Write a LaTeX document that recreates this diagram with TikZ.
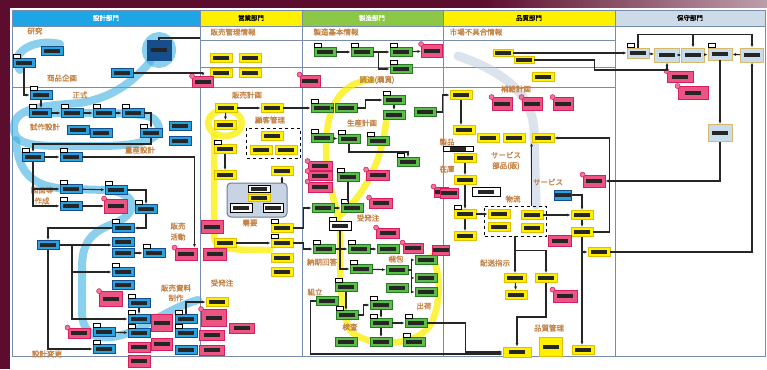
\documentclass[tikz,border=0pt]{standalone}
\usepackage{fontspec}
\newfontfamily\jp[FakeBold=1.2]{Noto Sans CJK JP}
\usetikzlibrary{arrows.meta,positioning,fit,backgrounds,calc}
\definecolor{maroonc}{RGB}{92,12,45}
\definecolor{blu}{RGB}{41,163,224}
\definecolor{bludk}{RGB}{22,78,140}
\definecolor{hdblu}{RGB}{30,165,230}
\definecolor{ylw}{RGB}{255,240,0}
\definecolor{ylwdk}{RGB}{222,192,0}
\definecolor{grn}{RGB}{92,190,72}
\definecolor{grndk}{RGB}{40,120,40}
\definecolor{hdgrn}{RGB}{140,200,70}
\definecolor{pnk}{RGB}{236,84,132}
\definecolor{pnkdk}{RGB}{212,30,96}
\definecolor{lbl}{RGB}{200,220,236}
\definecolor{tanc}{RGB}{215,185,110}
\definecolor{hdgry}{RGB}{205,218,232}
\definecolor{lanec}{RGB}{120,140,175}
\definecolor{labc}{RGB}{196,128,66}
\definecolor{hlcy}{RGB}{60,175,225}
\definecolor{hlyl}{RGB}{250,240,0}
\definecolor{hlgr}{RGB}{185,200,220}
\definecolor{gbox}{RGB}{200,212,228}
\definecolor{gboxdk}{RGB}{110,125,150}

\begin{document}
\begin{tikzpicture}[x=1pt,y=-1pt,>={Latex[length=3.5pt,width=3pt]},
  box/.style={minimum width=22pt,minimum height=9pt,inner sep=0pt,line width=0.9pt,
    path picture={\fill[black!85]([xshift=-8pt,yshift=-1.6pt]path picture bounding box.center)
      rectangle ([xshift=8pt,yshift=1.6pt]path picture bounding box.center);}},
  bl/.style={box,fill=blu,draw=bludk},
  yl/.style={box,fill=ylw,draw=ylwdk},
  gr/.style={box,fill=grn,draw=grndk},
  pk/.style={box,fill=pnk,draw=pnkdk,minimum height=12pt},
  lb/.style={box,fill=lbl,draw=tanc},
  wb/.style={box,fill=white,draw=black},
  tagst/.style={fill=white,draw=black,line width=0.6pt},
  pin/.style={fill=pnk!80,draw=pnkdk,line width=0.5pt},
  ln/.style={line width=1.1pt,draw=black!85},
  lane/.style={line width=0.8pt,draw=lanec},
  lab/.style={font=\jp\fontsize{7.5}{8}\selectfont,text=labc,inner sep=0pt},
  hd/.style={font=\jp\fontsize{6.5}{7}\selectfont,inner sep=0pt},
  hlc/.style={line width=8pt,draw=hlcy,opacity=0.6,line cap=round},
  hly/.style={line width=6.5pt,draw=hlyl,opacity=0.75,line cap=round},
  hlg/.style={line width=9pt,draw=hlgr,opacity=0.5,line cap=round}]
\useasboundingbox (0,0) rectangle (767,369);

% nodes
\node[bl,minimum width=24pt,minimum height=20pt,fill=bludk] (a1) at (159,50) {};
\foreach \n/\x/\y in {a2/52/51,a3/24/63,a4/122/73,a5/41/95,a6/40/113,a7/72/113,a8/104/113,a9/133/113,
  a10/78/130,a11/101/133,a12/151/133,a13/180/126,a14/180/141,a15/33/157,a16/71/157,a17/71/189,
  a18/116/190,a19/71/206,a20/146/209,a21/123/228,a22/48/245,a23/123/242,a24/123/253,a25/154/253,
  a26/123/272,a27/123/285,a28/139/303,a29/139/319,a30/186/319,a31/104/332,a32/104/349,a33/139/333,
  a34/186/333,a35/186/350}
  \node[bl] (\n) at (\x,\y) {};
\foreach \n/\x/\y in {b1/221/58,b2/250/58,b3/221/73,b4/250/73,b5/226/108,b6/272/108,b7/225/125,
  b8/272/136,b9/261/150,b10/286/150,b11/225/149,b12/225/175,b13/282/171,b14/282/228,b15/225/243,
  b16/282/243,b17/282/258,b18/282/272,b19/217/302}
  \node[yl] (\n) at (\x,\y) {};
\foreach \n/\x/\y in {c1/325/52,c2/362/52,c3/401/52,c4/401/69,c5/322/108,c6/346/108,c7/394/100,
  c8/394/115,c9/425/112,c10/322/138,c11/349/139,c12/378/141,c13/408/162,c14/348/177,c15/323/208,
  c16/352/208,c18/324/249,c19/359/249,c20/388/249,c21/361/269,c22/397/270,c23/426/260,c24/426/278,
  c25/426/292,c26/397/288,c27/346/287,c28/327/301,c29/381/305,c30/347/315,c31/381/323,c32/416/323,
  c33/346/342,c34/381/342,c35/414/342}
  \node[gr] (\n) at (\x,\y) {};
\node[wb] (c17) at (340,226) {};
\foreach \n/\x/\y in {e3/543/77,e4/461/95,e5/464/130,e6/488/138,e7/514/138,e8/543/138,e9/465/158,
  e10/465/180,e11/465/214,e12/499/214,e13/499/227,e14/532/215,e15/532/228,e16/582/215,e17/582/232,
  e18/465/236,e19/599/252,e20/515/278,e21/516/295,e22/546/278,e25/583/350}
  \node[yl] (\n) at (\x,\y) {};
\node[yl,minimum width=20pt,minimum height=7pt] (e1) at (503,53) {};
\node[yl,minimum width=20pt,minimum height=7pt] (e2) at (524,60) {};
\node[yl,minimum width=28pt,minimum height=10pt] (e23) at (517,352) {};
\node[yl,minimum width=23pt,minimum height=19pt] (e24) at (551,347) {};
\node[wb,minimum width=30pt,minimum height=5pt] (w1) at (458,149) {};
\node[wb,minimum width=28pt] (w2) at (486,192) {};
\node[bl,minimum width=17pt,minimum height=10pt] (bl2) at (563,195) {};
\foreach \n/\x/\y/\w/\h in {p1/116/206/23/14,p2/186/254/22/12,p3/111/299/23/15,p4/162/323/21/17,
  p5/79/333/22/10,p6/139/347/22/10,p7/162/344/21/12,p8/139/361/22/12,p9/203/82/21/11,
  p10/310/81/20/12,p11/212/227/22/13,p12/215/254/23/12,p13/214/318/25/17,p14/242/328/25/10,
  p15/212/335/25/10,p16/212/350/25/10,p17/432/51/21/13,p18/320/166/24/9,p19/320/176/24/9,
  p20/320/187/24/10,p21/378/175/23/10,p22/381/203/23/10,p23/388/233/23/10,p24/413/248/20/10,
  p25/441/250/17/10,p26/441/192/14/10,p27/502/104/20/13,p28/532/104/20/13,p29/563/104/20/13,
  p30/449/193/18/10,p31/594/181/22/12,p32/560/241/23/11,p33/565/296/24/12,p34/680/77/26/11,
  p35/693/93/30/13}
  \node[pk,minimum width=\w pt,minimum height=\h pt] (\n) at (\x,\y) {};
\foreach \n/\x/\y/\w/\h in {f1/638/53/22/10,f2/667/55/25/14,f3/693/55/23/14,f4/720/54/24/12,
  f5/752/55/23/14,f6/720/133/24/17}
  \node[lb,minimum width=\w pt,minimum height=\h pt] (\n) at (\x,\y) {};

% grey group and dashed groups
\node[draw=gboxdk,fill=gbox,rounded corners=4pt,minimum width=60pt,minimum height=34pt,line width=1pt] (g1) at (257,200) {};
\node[wb,minimum height=7pt] (k1) at (259,189) {};
\node[yl,minimum height=7pt] (k2) at (259,198) {};
\node[wb] (k3) at (241,208) {};
\node[wb,minimum width=20pt] (k4) at (273,208) {};
\node[draw=black,dashed,line width=0.9pt,inner sep=3pt,fit=(b8)(b9)(b10)] (d1) {};
\node[draw=black,dashed,line width=0.9pt,inner sep=3pt,fit=(e12)(e13)(e14)(e15)] (d2) {};

\foreach \n in {a3,a5,a6,a7,a8,a9,a12,a15,a16,a17,a18,a19,a20,a21,a25,a26,a28,a29,a30,a31,a32,a33,
  a34,b11,b14,b16,c1,c2,c3,c4,c5,c7,c10,c11,c12,c13,c14,c16,c17,c18,c19,c21,c27,c29,c30,c31,c32,
  c35,e11,f1,f4}
  \draw[tagst] ([xshift=1pt]\n.north west) rectangle ++(7,-4);
\foreach \n in {p1,p2,p3,p5,p9,p10,p13,p17,p18,p19,p20,p21,p22,p23,p24,p26,p27,p28,p29,p31,p33,p34,p35}
  \draw[pin] (\n.north west) circle (2.5pt);

% labels
\foreach \n/\x/\y/\t in {l1/35/31/研究,l2/62/78/商品企画,l3/80/95/正式,l4/45/127/試作設計,
  l5/140/150/量産設計,l6/42/190/図面等,l7/42/201/作成,l8/178/226/販売,l9/178/237/活動,
  l10/176/288/販売資料,l11/176/298/制作,l12/47/354/設計変更,l13/233/32/販売管理情報,
  l14/247/95/販売計画,l15/270/120/顧客管理,l16/250/223/需要,l17/222/283/受発注,
  l18/336/32/製造基本情報,l19/377/80/調達(購買),l20/362/123/生産計画,l21/368/218/受発注,
  l22/322/262/納期回答,l23/396/259/梱包,l24/315/292/組立,l25/350/327/検査,l26/424/306/出荷,
  l27/476/32/市場不具合情報,l28/516/89/補給計画,l29/447/142/製品,l30/447/169/在庫,
  l31/506/155/サービス,l32/506/166/部品(販),l33/513/199/物流,l34/548/182/サービス,
  l35/495/263/配送指示,l36/549/328/品質管理}
  \node[lab] (\n) at (\x,\y) {\t};

% connectors
\coordinate (t1) at (200,38);
\draw[ln] (a1) |- (t1);
\draw[ln,->] (a4.east) -| (p9.north);
\draw[ln,->] (a3.south) |- (a5.west);
\draw[ln,->] (a5.south) -- (a5.south |- a6.north);
\draw[ln,->] (a6) -- (a7);
\draw[ln,->] (a7) -- (a8);
\draw[ln,->] (a8) -- (a9);
\draw[ln,->] (a9.east) -| (a12.north);
\draw[ln,->] (a12.south) -- ++(0,6) -| (a15.north);
\draw[ln,->] (a15) -- (a16);
\draw[ln,->] (a16.east) -| ([xshift=-3pt]p2.north east);
\draw[ln,->] (a15.south) |- (a17.west);
\draw[ln,->] (a15.south) |- (a19.west);
\draw[ln,->] (a17) -- (a18);
\draw[ln,->] (a18.east) -| (a20.north);
\draw[ln,->] (a19) -- (p1);
\draw[ln,->] (a20.south) |- (a21.east);
\draw[ln,->] (a21.west) -| (a22.north);
\draw[ln,->] (a22.east) -- (a22.east -| a23.west);
\coordinate (j1) at (72,245);
\draw[ln,->] (j1) |- (a26.west);
\draw[ln,->] (j1) |- (a29.west);
\draw[ln,->] (a22.south) |- (a32.west);
\draw[ln,->] (a24) -- (a25);
\draw[ln,->] (a31) -- (a33);
\draw[ln,->] (a28) -- (a29);
\draw[ln,->] (a30.north) |- (b19.west);
\draw[ln,->] (b5) -- (b6);
\draw[ln,->] (b6) -- (c5);
\draw[ln,->] (b5) -- (b7);
\draw[ln,->] (b11) -- (b12);
\draw[ln,->] (g1.north -| b13) -- (b13.south);
\draw[ln,->] (b15) -- (b16);
\draw[ln,->] (b16.east) -- ++(10,0) |- (c18.west);
\draw[ln,->] (b14.east) -- ++(10,0) |- (c15.west);
\draw[ln,->] (c1) -- (c2);
\draw[ln,->] (c2) -- (c3);
\draw[ln,->] (c2.east) -- ++(5,0) |- (c4.west);
\draw[ln,->] (c3) -- (p17);
\draw[ln,->] (c5) -- (c6);
\draw[ln,->] (c6.east) -- ++(8,0) |- (c7.west);
\draw[ln,->] (c7) -- (c8);
\draw[ln,->] (c9.east) -- ++(6,0) |- (e4.west);
\draw[ln,->] (c10) -- (c11);
\draw[ln,->] (c11.south) -- ++(0,8) -| (c13.north);
\draw[ln,->] (c14.south) -- (c14.south |- c16.north);
\draw[ln,->] (c15) -- (c16);
\draw[ln,->] (c17.south) |- (c21.west);
\draw[ln,->] (c18) -- (c19);
\draw[ln,->] (c19) -- (c20);
\draw[ln,->] (c21) -- (c22);
\draw[ln,->] (c22.east) -- ++(3,0) |- (c23.west);
\draw[ln,->] (c22.east) -- ++(3,0) |- (c24.west);
\draw[ln,->] (c22.east) -- ++(3,0) |- (c25.west);
\draw[ln,->] (c27.south) -- (c27.south |- c30.north);
\draw[ln,->] (c30.east) -- ++(5,0) |- (c29.west);
\draw[ln,->] (c29) -- (c31);
\draw[ln,->] (c31) -- (c32);
\draw[ln,->] (c31) -- (c34);
\draw[ln,->] (c32.east) -- ++(38,0) |- (e23.west);
\draw[ln,->] (c28.west) -- ++(-5,0) |- ([yshift=-2pt]e23.west);
\draw[ln,->] (e4.south) -- (e4.south |- e5.north);
\draw[ln,->] (e9) -- (e10);
\draw[ln,->] (e10) -- (e11);
\draw[ln,->] (e11) -- (e18);
\draw[ln,->] (e11) -- (e12);
\draw[ln,->] (e14) -- (e16);
\draw[ln,->] (bl2.east) -| (e16.north);
\draw[ln,->] (e16) -- (e17);
\draw[ln,->] (e17.south) -- (e17.south |- e25.north);
\draw[ln,->] (e17.south |- e19.west) -- (e19.west);
\draw[ln,->] (e17.east) -- ++(16,0) |- (e8.east);
\draw[ln,->] (d2.north -| e8.south west) -- (e8.south west);
\draw[ln,->] (e20.north |- d2.south) -- (e20.north);
\draw[ln,->] (e20.north |- d2.south) -- ++(0,14) -| (e22.north);
\draw[ln,->] (e20) -- (e21);
\draw[ln,->] (e22.south) -- ++(0,34) -| (e23.north);
\draw[ln,->] (e1) -- (f1);
\draw[ln,->] (e2.east) -- ++(60,0) -- ++(0,10) -| (f2.south);
\draw[ln,->] (f1) -- (f2);
\draw[ln,->] (f2) -- (f3);
\draw[ln,->] (f3) -- (f4);
\draw[ln,->] (f5) -- (f4);
\draw[ln,->] (f1.north) -- ++(0,-13) -| (f3.north);
\draw[ln,->] (f3.north) ++(0,-13) -| (f5.north);
\draw[ln,->] (f4) -- (f6);
\draw[ln,->] (f6.south) |- (p31.east);
\draw[ln,->] (e19.east) -| (f5.south);

% page, lanes and highlights
\begin{scope}[on background layer]
  \fill[maroonc] (0,0) rectangle (767,369);
  \shade[left color=maroonc,right color=maroonc!40!white] (480,0) rectangle (767,8);
  \fill[white] (10,8) rectangle (767,369);
  \fill[hdblu] (12,10) rectangle (200,26);
  \fill[ylw] (200,10) rectangle (302,26);
  \fill[hdgrn] (302,10) rectangle (443,26);
  \fill[ylw] (443,10) rectangle (615,26);
  \fill[hdgry] (615,10) rectangle (765,26);
  \node[hd,text=white] (h1) at (106,18) {設計部門};
  \node[hd] (h2) at (251,18) {営業部門};
  \node[hd,text=white] (h3) at (372,18) {製造部門};
  \node[hd] (h4) at (529,18) {品質部門};
  \node[hd] (h5) at (690,18) {保守部門};
  \draw[lane] (12,10) rectangle (765,356);
  \draw[lane] (12,26) -- (765,26);
  \foreach \x in {200,302,443,615} \draw[lane] (\x,10) -- (\x,356);
  \draw[lane] (200,40) -- (615,40);
  \draw[lane] (200,67) -- (615,67);
  \draw[lane] (12,87) -- (615,87);
  \draw[hlc] (159,50) circle[x radius=13pt,y radius=14pt];
  \draw[hlc] (60,44) .. controls (35,38) and (8,52) .. (20,70);
  \draw[hlc] (150,62) .. controls (130,85) and (110,98) .. (80,103) .. controls (40,106) and (12,108) .. (14,130)
    .. controls (16,148) and (40,146) .. (100,146) .. controls (150,146) and (168,135) .. (155,120)
    .. controls (148,112) and (120,113) .. (30,113);
  \draw[hlc] (16,140) .. controls (18,175) and (35,188) .. (70,189) -- (105,190)
    .. controls (140,192) and (140,215) .. (110,225) .. controls (85,235) and (82,250) .. (82,270) -- (82,312)
    .. controls (82,345) and (115,342) .. (145,325) .. controls (165,314) and (180,305) .. (198,300);
  \draw[hly] (225,123) circle[x radius=17pt,y radius=13pt];
  \draw[hly] (214,136) -- (214,235) .. controls (214,250) and (230,250) .. (270,250);
  \draw[hly] (372,80) .. controls (338,82) and (326,110) .. (326,150) .. controls (326,185) and (338,205) .. (340,232)
    .. controls (342,262) and (336,300) .. (350,330) .. controls (365,348) and (420,348) .. (432,322)
    .. controls (442,298) and (440,272) .. (432,256);
  \draw[hly] (386,122) .. controls (382,160) and (366,192) .. (342,214);
  \draw[hlg] (458,56) .. controls (500,70) and (532,92) .. (534,130) -- (536,205);
\end{scope}
\end{tikzpicture}
\end{document}
